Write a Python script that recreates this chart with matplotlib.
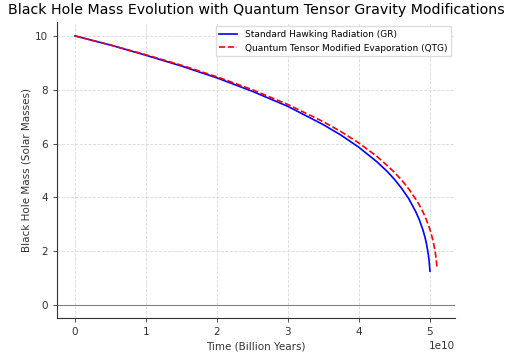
import matplotlib
matplotlib.use("Agg")
import matplotlib.pyplot as plt

# time points (years) and masses (solar masses)
t_gr = [0, 0.5e10, 1.0e10, 1.5e10, 2.0e10, 2.5e10, 3.0e10, 3.5e10, 3.75e10, 4.0e10,
        4.25e10, 4.4e10, 4.5e10, 4.6e10, 4.7e10, 4.8e10, 4.85e10, 4.9e10, 4.93e10,
        4.95e10, 4.97e10, 4.98e10, 4.99e10, 5.0e10]
m_gr = [10.0, 9.66, 9.28, 8.88, 8.44, 7.94, 7.38, 6.70, 6.31, 5.86,
        5.33, 4.96, 4.67, 4.34, 3.96, 3.47, 3.17, 2.80, 2.52,
        2.29, 2.00, 1.82, 1.59, 1.26]

t_qtg = [0, 0.5e10, 1.0e10, 1.5e10, 2.0e10, 2.5e10, 3.0e10, 3.5e10, 3.75e10, 4.0e10,
         4.25e10, 4.4e10, 4.5e10, 4.6e10, 4.7e10, 4.8e10, 4.85e10, 4.9e10, 4.95e10,
         5.0e10, 5.02e10, 5.05e10, 5.07e10, 5.08e10, 5.09e10, 5.1e10]
m_qtg = [10.0, 9.66, 9.30, 8.91, 8.48, 8.00, 7.45, 6.81, 6.44, 6.02,
         5.53, 5.18, 4.93, 4.65, 4.32, 3.94, 3.72, 3.47, 3.17,
         2.81, 2.63, 2.31, 2.03, 1.86, 1.65, 1.37]

fig = plt.figure(figsize=(5.12, 3.53), dpi=100)
ax = fig.add_axes([0.111, 0.099, 0.778, 0.839])

ax.plot(t_gr, m_gr, color='blue', lw=1.2, label='Standard Hawking Radiation (GR)')
ax.plot(t_qtg, m_qtg, color='red', lw=1.2, ls='--', label='Quantum Tensor Modified Evaporation (QTG)')
ax.axhline(0, color='gray', lw=0.8)

ax.set_ylim(-0.48, 10.52)
ax.set_xlabel('Time (Billion Years)', fontsize=7.5, color='#333333', labelpad=3)
ax.set_ylabel('Black Hole Mass (Solar Masses)', fontsize=7.5, color='#333333', labelpad=2)
ax.set_title('Black Hole Mass Evolution with Quantum Tensor Gravity Modifications', fontsize=10.2)
ax.tick_params(labelsize=7.5, colors='#333333', length=3, width=0.6)
ax.xaxis.get_offset_text().set_fontsize(7.5)
ax.grid(True, ls='--', color='#d8d8d8', lw=0.6)
for s in ['top', 'right']:
    ax.spines[s].set_visible(False)
for s in ['left', 'bottom']:
    ax.spines[s].set_color('#333333')
    ax.spines[s].set_linewidth(0.8)
ax.legend(loc='upper right', fontsize=6.5, framealpha=1, edgecolor='#dddddd', fancybox=False)

fig.savefig('out.png', dpi=100)
